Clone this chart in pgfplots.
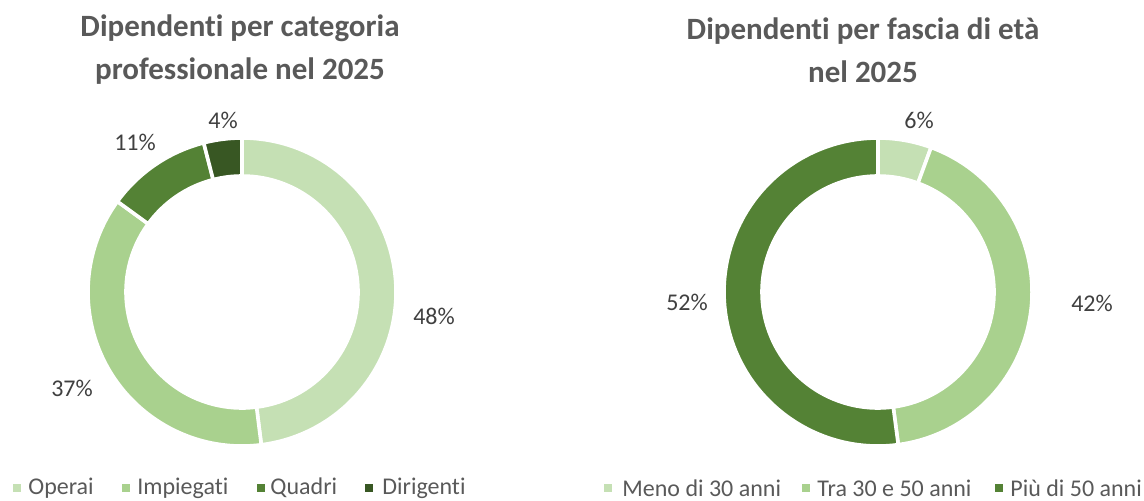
\documentclass[border=0pt]{standalone}
\usepackage{pgfplots}
\pgfplotsset{compat=1.18}
\usepackage{fontspec}
\setmainfont{Carlito}[Ligatures={NoCommon}, RawFeature={-liga}]
\definecolor{cOp}{HTML}{C5E0B4}
\definecolor{cIm}{HTML}{A9D18E}
\definecolor{cQu}{HTML}{548235}
\definecolor{cDi}{HTML}{385723}
\definecolor{tgray}{HTML}{595959}
\definecolor{lgray}{HTML}{404040}
% segment: center x, center y, start pct, end pct, colour
\newcommand{\seg}[5]{%
  \fill[#5, draw=white, line width=1.8pt]
    (axis cs:#1,#2) ++({90-3.6*#3}:77pt)
    arc[start angle={90-3.6*#3}, end angle={90-3.6*#4}, radius=77pt]
    -- ++({270-3.6*#4}:19pt)
    arc[start angle={90-3.6*#4}, end angle={90-3.6*#3}, radius=58pt]
    -- cycle;}
\begin{document}
\begin{tikzpicture}
\begin{axis}[x=0.5pt, y=0.5pt, xmin=0, xmax=1144, ymin=0, ymax=500,
  hide axis, clip=false, scale only axis]
\path (axis cs:0,0) rectangle (axis cs:1144,500);
% Left donut: Operai 48, Impiegati 37, Quadri 11, Dirigenti 4
\seg{242}{208}{0}{48}{cOp}
\seg{242}{208}{48}{85}{cIm}
\seg{242}{208}{85}{96}{cQu}
\seg{242}{208}{96}{100}{cDi}
% Right donut: <30 5.6, 30-50 42.3, >50 52.1
\seg{878}{208}{0}{5.6}{cOp}
\seg{878}{208}{5.6}{47.9}{cIm}
\seg{878}{208}{47.9}{100}{cQu}
% Titles
\node[align=center, text=tgray, font=\bfseries\fontsize{15.5}{21.5}\selectfont]
  at (axis cs:240,450) {Dipendenti per categoria\\professionale nel 2025};
\node[align=center, text=tgray, font=\bfseries\fontsize{15.5}{21.5}\selectfont]
  at (axis cs:863,450) {Dipendenti per fascia di età\\nel 2025};
% Data labels
\begin{scope}[every node/.style={text=lgray, font=\fontsize{12}{14}\selectfont}]
\node at (axis cs:223,380) {4\%};
\node at (axis cs:135,358) {11\%};
\node at (axis cs:434,184) {48\%};
\node at (axis cs:72,112) {37\%};
\node at (axis cs:919,380) {6\%};
\node at (axis cs:1092,197) {42\%};
\node at (axis cs:687,198) {52\%};
\end{scope}
% Legends
\begin{scope}[every node/.style={text=tgray, font=\fontsize{12}{14}\selectfont, anchor=west, inner sep=0pt}]
\fill[cOp] (axis cs:13,8) rectangle (axis cs:21,16);
\node at (axis cs:28,12) {Operai};
\fill[cIm] (axis cs:122,8) rectangle (axis cs:130,16);
\node at (axis cs:137,12) {Impiegati};
\fill[cQu] (axis cs:257,8) rectangle (axis cs:265,16);
\node at (axis cs:270,12) {Quadri};
\fill[cDi] (axis cs:365,8) rectangle (axis cs:373,16);
\node at (axis cs:382,12) {Dirigenti};
\fill[cOp] (axis cs:604,8) rectangle (axis cs:612,16);
\node at (axis cs:622,12) {Meno di 30 anni};
\fill[cIm] (axis cs:802,8) rectangle (axis cs:810,16);
\node at (axis cs:817,12) {Tra 30 e 50 anni};
\fill[cQu] (axis cs:995,8) rectangle (axis cs:1003,16);
\node at (axis cs:1010,12) {Più di 50 anni};
\end{scope}
\end{axis}
\end{tikzpicture}
\end{document}
